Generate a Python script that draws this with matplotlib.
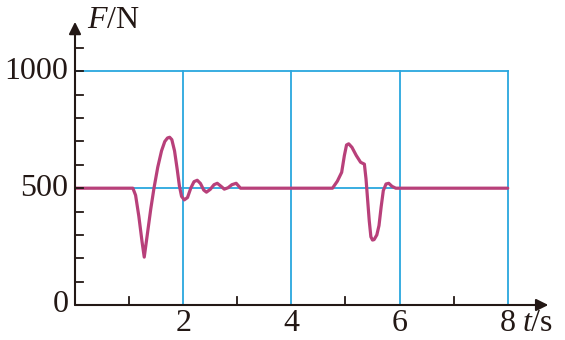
import matplotlib
matplotlib.use("Agg")
import matplotlib.pyplot as plt

plt.rcParams['font.family'] = ['Liberation Serif', 'DejaVu Serif']
plt.rcParams['mathtext.fontset'] = 'custom'
plt.rcParams['mathtext.rm'] = 'Liberation Serif'
plt.rcParams['mathtext.it'] = 'Liberation Serif:italic'

# force sensor reading F (N) against time t (s)
t = [0, 1.07, 1.12, 1.18, 1.24, 1.28, 1.33, 1.40, 1.46, 1.53, 1.60, 1.66, 1.71, 1.75, 1.79,
     1.84, 1.89, 1.93, 1.97, 2.02, 2.08, 2.14, 2.20, 2.26, 2.32, 2.38, 2.43, 2.50, 2.57, 2.63,
     2.70, 2.76, 2.83, 2.90, 2.98, 3.06,
     4.76, 4.85, 4.93, 4.98, 5.02, 5.06, 5.12, 5.20, 5.28, 5.35, 5.38, 5.41, 5.44, 5.47, 5.50,
     5.53, 5.58, 5.62, 5.66, 5.70, 5.75, 5.80, 5.86, 5.93, 8.0]
F = [500, 500, 470, 380, 270, 205, 290, 410, 500, 590, 660, 700, 715, 718, 708,
     660, 580, 510, 465, 450, 460, 500, 528, 534, 520, 492, 483, 495, 515, 521,
     508, 496, 502, 515, 521, 500,
     500, 530, 568, 640, 685, 690, 675, 640, 611, 603, 540, 450, 360, 292, 278,
     280, 300, 340, 420, 490, 518, 521, 508, 500, 500]

x_grid = [2, 4, 6, 8]
y_grid = [500, 1000]
x_labels = ['2', '4', '6', '8']
y_labels = ['0', '500', '1000']

axis_col = '#231815'
grid_col = '#2aa7de'
line_col = '#b8407a'

fig = plt.figure(figsize=(5.65, 3.4), dpi=100)
ax = fig.add_axes([75 / 565, 35 / 340, 476 / 565, 292 / 340])
ax.set_xlim(0, 8.8)
ax.set_ylim(0, 1250)
ax.axis('off')

# grid
for xg in x_grid:
    ax.plot([xg, xg], [0, 1000], color=grid_col, lw=1.3, zorder=1)
for yg in y_grid:
    ax.plot([0, 8], [yg, yg], color=grid_col, lw=1.3, zorder=1)

# curve
ax.plot(t, F, color=line_col, lw=2.3, solid_joinstyle='round', solid_capstyle='round', zorder=3)

# axes with arrows
ax.annotate('', xy=(8.75, 0), xytext=(0, 0),
            arrowprops=dict(arrowstyle='-|>', color=axis_col, lw=1.5, mutation_scale=18,
                            shrinkA=0, shrinkB=0), annotation_clip=False)
ax.annotate('', xy=(0, 1212), xytext=(0, 0),
            arrowprops=dict(arrowstyle='-|>', color=axis_col, lw=1.5, mutation_scale=18,
                            shrinkA=0, shrinkB=0), annotation_clip=False)

# small ticks
dx_tick = 8 / 54.1
dy_tick = 8 * 1250 / 292
for xt in [1, 3, 5, 7]:
    ax.plot([xt, xt], [0, dy_tick], color=axis_col, lw=1.3, zorder=4)
for yt in range(100, 1200, 100):
    ax.plot([0, dx_tick], [yt, yt], color=axis_col, lw=1.3, zorder=4)

# tick labels
for xg, lab in zip(x_grid, x_labels):
    ax.text(xg, -18, lab, ha='center', va='top', fontsize=23, color=axis_col)
for yv, lab in zip([0, 500, 1000], y_labels):
    ax.text(-0.12, yv, lab, ha='right', va='center', fontsize=23, color=axis_col)

ax.text(0.22, 1218, r'$F$/N', ha='left', va='center', fontsize=23, color=axis_col)
ax.text(8.26, -18, r'$t$/s', ha='left', va='top', fontsize=23, color=axis_col)

fig.savefig('out.png', dpi=100)
